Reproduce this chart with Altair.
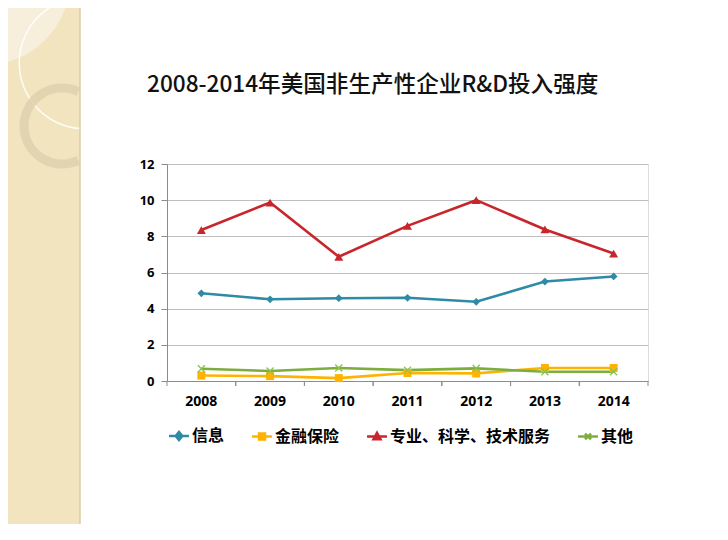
import altair as alt
import pandas as pd

# ---- data ----
years = ["2008", "2009", "2010", "2011", "2012", "2013", "2014"]
series_names = ["信息", "金融保险", "专业、科学、技术服务", "其他"]
info = [4.85, 4.52, 4.58, 4.6, 4.38, 5.5, 5.78]
finance = [0.3, 0.27, 0.16, 0.44, 0.42, 0.72, 0.72]
professional = [8.35, 9.87, 6.87, 8.58, 10.0, 8.38, 7.05]
other = [0.68, 0.55, 0.72, 0.6, 0.7, 0.51, 0.51]
y_ticks = [0, 2, 4, 6, 8, 10, 12]
title_text = "2008-2014年美国非生产性企业R&D投入强度"

# ---- styles ----
line_colors = ["#2F8AA6", "#FFB300", "#C8252C", "#7DAE3C"]
marker_colors = ["#2F8AA6", "#FFB300", "#C8252C", "#8CC152"]
marker_shapes = ["diamond", "square", "triangle-up", "M-1,-1L1,1M-1,1L1,-1"]
marker_sizes = [60, 64, 80, 50]
legend_paths = [
    "M-3,0H3M-1,0L0,-1.2L1,0L0,1.2Z",
    "M-3,0H3M-0.9,-0.9H0.9V0.9H-0.9Z",
    "M-3,0H3M0,-1.1L1.05,0.8H-1.05Z",
    "M-3,0H3M-0.9,-0.9L0.9,0.9M-0.9,0.9L0.9,-0.9",
]

rows = []
for name, vals in zip(series_names, [info, finance, professional, other]):
    for yr, v in zip(years, vals):
        rows.append({"year": yr, "series": name, "value": v})
df = pd.DataFrame(rows)
years_df = pd.DataFrame({"year": years})
one = pd.DataFrame({"k": [0]})

W, H = 481, 217
AXIS_GRAY = "#8C8C8C"
x_scale = alt.Scale(type="band", domain=years, paddingInner=0, paddingOuter=0)
y_scale = alt.Scale(domain=[0, 12])

x_axis = alt.Axis(title=None, labelAngle=0, ticks=False, grid=False,
                  domainColor=AXIS_GRAY, labelFont="Open Sans", labelFontWeight="bold",
                  labelFontSize=14, labelColor="#000000", labelPadding=13)
y_axis = alt.Axis(title=None, values=y_ticks, format="d", tickSize=6, labelPadding=7,
                  gridColor="#BFBFBF", domainColor=AXIS_GRAY, tickColor=AXIS_GRAY,
                  labelFont="Open Sans", labelFontWeight="bold", labelFontSize=13,
                  labelColor="#000000")

# ---- slide decoration ----
strip = alt.Chart(one).mark_rect(color="#F2E4BF").encode(
    x=alt.value(-159), x2=alt.value(-87), y=alt.value(-156), y2=alt.value(364))
disc = alt.Chart(one).mark_arc(color="#F7EFDC", theta=0, theta2=6.2832, radius=85, radius2=0).encode(
    x=alt.value(-182), y=alt.value(-184))
ring_thin = alt.Chart(one).mark_arc(color="#FFFFFF", opacity=0.9, theta=3.218, theta2=6.207,
                                    radius=66.5, radius2=65).encode(x=alt.value(-82), y=alt.value(-101))
ring_tan = alt.Chart(one).mark_arc(color="#DFD1AD", opacity=0.85, theta=2.699, theta2=6.726,
                                   radius=42.5, radius2=33.5).encode(x=alt.value(-105), y=alt.value(-38))
border = alt.Chart(one).mark_rule(color="#DCCDA6", strokeWidth=1.5).encode(
    x=alt.value(-87), y=alt.value(-156), y2=alt.value(364))

# ---- title as a text mark ----
title = alt.Chart(one).mark_text(
    text=title_text, align="left", baseline="alphabetic", font="Noto Sans CJK SC",
    fontSize=22.6, fontWeight=500, color="#111111").encode(
    x=alt.value(-20), y=alt.value(-72))

# ---- category tick marks between bands ----
ticks0 = alt.Chart(years_df).mark_rule(color=AXIS_GRAY).encode(
    x=alt.X("year:N", bandPosition=0, scale=x_scale, axis=x_axis),
    y=alt.value(H), y2=alt.value(H + 5))
ticks1 = alt.Chart(years_df).mark_rule(color=AXIS_GRAY).encode(
    x=alt.X("year:N", bandPosition=1, scale=x_scale, axis=x_axis),
    y=alt.value(H), y2=alt.value(H + 5))

# ---- legend carrier (invisible points, legend only) ----
leg = alt.Legend(title=None, orient="none", legendX=4, legendY=264, direction="horizontal",
                 columnPadding=22, labelOffset=5, symbolSize=44, symbolStrokeWidth=2.5,
                 symbolOpacity=1,
                 labelFont="Noto Sans CJK SC", labelFontSize=16, labelFontWeight="bold",
                 labelColor="#000000", labelLimit=300)
legend_layer = alt.Chart(df).mark_point(filled=True, size=0, strokeWidth=2.5, opacity=1).encode(
    x=alt.X("year:N", scale=x_scale, axis=x_axis),
    y=alt.Y("value:Q", scale=y_scale, axis=y_axis),
    fill=alt.Fill("series:N", scale=alt.Scale(domain=series_names, range=line_colors), legend=leg),
    stroke=alt.Stroke("series:N", scale=alt.Scale(domain=series_names, range=line_colors), legend=leg),
    shape=alt.Shape("series:N", scale=alt.Scale(domain=series_names, range=legend_paths), legend=leg),
)

# ---- data lines ----
lines = alt.Chart(df).mark_line(strokeWidth=2.6).encode(
    x=alt.X("year:N", scale=x_scale, axis=x_axis),
    y=alt.Y("value:Q", scale=y_scale, axis=y_axis),
    color=alt.Color("series:N", scale=alt.Scale(domain=series_names, range=line_colors), legend=None),
)

pts = []
for i, name in enumerate(series_names):
    filled = i < 3
    pts.append(
        alt.Chart(df).transform_filter(alt.datum.series == name).mark_point(
            shape=marker_shapes[i], size=marker_sizes[i], filled=filled, opacity=1,
            color=marker_colors[i], strokeWidth=1.3 if not filled else 0.5,
        ).encode(x=alt.X("year:N", scale=x_scale, axis=x_axis),
                 y=alt.Y("value:Q", scale=y_scale, axis=y_axis))
    )

chart = alt.layer(
    strip, disc, ring_thin, ring_tan, border, title, legend_layer, ticks0, ticks1, lines, *pts
).properties(
    width=W, height=H,
    padding={"left": 159, "top": 156, "right": 72, "bottom": 143},
    autosize=alt.AutoSizeParams(type="none"),
).configure_view(stroke=None).configure(background="white")

chart.save("out.html", embed_options={"renderer": "svg", "actions": False})
